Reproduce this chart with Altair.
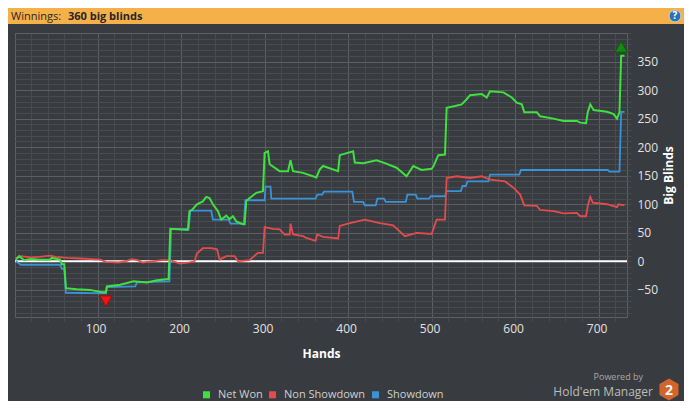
import altair as alt
import pandas as pd

# ---- data ----
net_hands = [2, 6, 12, 20, 30, 43, 45, 55, 57, 60, 62, 75, 91, 105, 110, 111, 127, 143, 159, 171, 185, 187,
             208, 210, 213, 219, 226, 230, 234, 238, 244, 248, 254, 258, 262, 266, 274, 276, 278, 290, 298,
             300, 304, 306, 318, 328, 331, 334, 346, 362, 366, 370, 388, 390, 406, 408, 418, 434, 444, 458,
             470, 478, 488, 500, 502, 508, 516, 518, 528, 536, 542, 546, 560, 566, 570, 586, 596, 602, 608,
             611, 626, 630, 646, 658, 674, 678, 685, 687, 690, 694, 710, 718, 722, 725, 727, 731]
net_values = [3, 9, 2, 4, 3, 3, 6, 3, -5, -5, -47, -49, -50, -54, -54, -44, -41, -35, -37, -33, -31, 57,
              55, 88, 90, 100, 105, 113, 111, 100, 88, 73, 80, 74, 79, 70, 65, 65, 106, 120, 123,
              190, 193, 170, 158, 158, 177, 158, 155, 147, 161, 167, 158, 186, 193, 173, 172, 177, 172, 164,
              149, 167, 160, 162, 166, 186, 187, 269, 272, 275, 284, 291, 293, 287, 298, 296, 287, 278, 275,
              261, 261, 254, 250, 246, 246, 243, 242, 261, 275, 265, 262, 258, 250, 261, 360, 360]

ns_hands = [2, 8, 20, 30, 43, 50, 64, 80, 103, 110, 125, 135, 141, 148, 154, 165, 177, 187, 198, 210, 216,
            219, 226, 236, 243, 246, 254, 264, 268, 282, 292, 298, 300, 310, 318, 324, 330, 331, 334, 346,
            350, 361, 363, 370, 388, 390, 402, 420, 438, 454, 468, 482, 500, 506, 516, 518, 530, 546, 560,
            570, 588, 598, 606, 611, 626, 630, 646, 658, 674, 678, 685, 687, 690, 693, 710, 722, 724, 731]
ns_values = [5, 9, 7, 8, 10, 8, 6, 5, 3, -1, -2, 1, 4, 2, -2, 0, 2, 2, -4, -2, 0,
             14, 23, 23, 21, 3, 9, 9, 0, 2, 15, 15, 60, 57, 56, 47, 47, 66, 47, 44,
             41, 36, 47, 43, 40, 62, 67, 73, 67, 63, 44, 50, 48, 73, 73, 146, 149, 146, 149,
             143, 140, 129, 117, 98, 97, 90, 88, 84, 85, 79, 79, 97, 113, 103, 100, 95, 100, 98]

sd_hands = [2, 8, 55, 57, 60, 62, 110, 111, 145, 147, 186, 188, 209, 211, 236, 238, 257, 259, 275, 277,
            300, 301, 307, 308, 361, 363, 369, 371, 405, 407, 418, 420, 433, 435, 443, 445, 469, 471, 481,
            483, 497, 499, 516, 518, 535, 537, 541, 543, 568, 570, 605, 607, 711, 713, 725, 727, 731]
sd_values = [0, -6, -6, -13, -13, -55, -56, -45, -44, -37, -35, 57, 57, 89, 89, 73, 73, 66, 66, 107,
             107, 131, 131, 110, 110, 117, 117, 122, 122, 104, 104, 98, 98, 110, 110, 104, 104, 117, 117,
             110, 110, 114, 114, 123, 123, 132, 132, 140, 140, 152, 152, 160, 160, 157, 157, 262, 262]

series_names = ["Net Won", "Non Showdown", "Showdown"]
series_colors = ["#3fe03f", "#e34c4c", "#3a93d6"]

x_ticks = list(range(20, 734, 20))
y_ticks = list(range(-90, 401, 10))

header_label = "Winnings:"
header_value = "360 big blinds"

# ---- tables ----
lines = pd.concat([
    pd.DataFrame({"hand": net_hands, "bb": net_values, "series": "Net Won"}),
    pd.DataFrame({"hand": ns_hands, "bb": ns_values, "series": "Non Showdown"}),
    pd.DataFrame({"hand": sd_hands, "bb": sd_values, "series": "Showdown"}),
], ignore_index=True)

net = pd.DataFrame({"hand": net_hands, "bb": net_values})
vmax = net["bb"].max()
vmin = net["bb"].min()
max_pt = net[net["bb"] == vmax].head(1)
min_pt = net[net["bb"] == vmin].tail(1)

BG = "#383b3f"
MAJOR = "#5c5f63"
MINOR = "#484b4f"

x_enc = alt.X(
    "hand:Q",
    scale=alt.Scale(domain=[1, 734], nice=False, zero=False),
    axis=alt.Axis(
        values=x_ticks,
        labelExpr="datum.value % 100 === 0 ? datum.label : ''",
        format="d",
        grid=True,
        gridColor={"condition": {"test": "datum.value % 100 === 0", "value": MAJOR}, "value": MINOR},
        tickColor=MINOR, tickSize=4, domain=False,
        labelColor="#e2e2e2", labelFontSize=12, labelPadding=2, labelOverlap=False, labelFlush=False,
        labelOffset=-2,
        title="Hands", titleColor="#ffffff", titleFontSize=12, titleFontWeight="bold", titlePadding=14,
    ),
)
y_enc = alt.Y(
    "bb:Q",
    scale=alt.Scale(domain=[-97.5, 400], nice=False, zero=False),
    axis=alt.Axis(
        orient="right",
        values=y_ticks,
        labelExpr="datum.value % 50 === 0 && datum.value < 400 ? datum.label : ''",
        format="d",
        grid=True,
        gridColor={"condition": {"test": "datum.value % 50 === 0", "value": MAJOR}, "value": MINOR},
        tickColor=MINOR, tickSize=4, domain=False,
        labelColor="#e2e2e2", labelFontSize=12, labelPadding=6, labelAlign="left",
        labelOverlap=False, labelFlush=False,
        title="Big Blinds", titleColor="#ffffff", titleFontSize=12, titleFontWeight="bold",
        titleAngle=270, titleBaseline="top", titlePadding=6,
    ),
)
color_enc = alt.Color(
    "series:N",
    scale=alt.Scale(domain=series_names, range=series_colors),
    legend=alt.Legend(
        title=None, orient="none", direction="horizontal", legendX=186, legendY=356,
        symbolType="square", symbolSize=12, symbolStrokeWidth=3.6, symbolOffset=0,
        labelColor="#d0d0d0", labelFontSize=11, labelOffset=6, columnPadding=0, padding=0,
    ),
)

base = alt.Chart(lines).encode(x=x_enc, y=y_enc, color=color_enc)

zero = alt.Chart(pd.DataFrame({"bb": [0]})).mark_rule(color="#ffffff", strokeWidth=2).encode(y=y_enc)

sd_line = base.transform_filter(alt.datum.series == "Showdown").mark_line(strokeWidth=1.8)
ns_line = base.transform_filter(alt.datum.series == "Non Showdown").mark_line(strokeWidth=1.8)
net_line = base.transform_filter(alt.datum.series == "Net Won").mark_line(strokeWidth=2)

max_mark = alt.Chart(max_pt).mark_point(
    shape="triangle-up", filled=True, color="#138a13", stroke="#0b5e0b", strokeWidth=1,
    size=150, opacity=1, yOffset=-9,
).encode(x=x_enc, y=y_enc)
min_mark = alt.Chart(min_pt).mark_point(
    shape="triangle-down", filled=True, color="#f01414", stroke="#a00c0c", strokeWidth=1,
    size=150, opacity=1, yOffset=9,
).encode(x=x_enc, y=y_enc)

one = pd.DataFrame({"k": [0]})

header_bar = alt.Chart(one).mark_rect(color="#f5b04a").encode(
    x=alt.value(-7), x2=alt.value(669), y=alt.value(-25), y2=alt.value(-9))
header_t1 = alt.Chart(pd.DataFrame({"t": [header_label]})).mark_text(
    align="left", baseline="middle", fontSize=11, color="#262626", font="Open Sans"
).encode(x=alt.value(-4), y=alt.value(-16.5), text="t:N")
header_t2 = alt.Chart(pd.DataFrame({"t": [header_value]})).mark_text(
    align="left", baseline="middle", fontSize=11, fontWeight="bold", color="#262626", font="Open Sans"
).encode(x=alt.value(53), y=alt.value(-16.5), text="t:N")
help_dot = alt.Chart(one).mark_point(
    shape="circle", filled=True, color="#2a72b8", stroke="#cfe0f0", strokeWidth=0.8, size=140, opacity=1
).encode(x=alt.value(660), y=alt.value(-17))
help_q = alt.Chart(pd.DataFrame({"t": ["?"]})).mark_text(
    align="center", baseline="middle", fontSize=10, fontWeight="bold", color="#ffffff"
).encode(x=alt.value(660), y=alt.value(-17), text="t:N")

powered = alt.Chart(pd.DataFrame({"t": ["Powered by"]})).mark_text(
    align="right", baseline="middle", fontSize=9, color="#a9a9a9"
).encode(x=alt.value(628), y=alt.value(344), text="t:N")
hem = alt.Chart(pd.DataFrame({"t": ["Hold'em Manager"]})).mark_text(
    align="right", baseline="middle", fontSize=12, color="#bdbdbd"
).encode(x=alt.value(638), y=alt.value(359), text="t:N")
hexagon = alt.Chart(one).mark_point(
    shape="M0,-1L0.866,-0.5L0.866,0.5L0,1L-0.866,0.5L-0.866,-0.5Z",
    filled=True, color="#d2652c", size=484, opacity=1,
).encode(x=alt.value(654), y=alt.value(356.5))
hex_two = alt.Chart(pd.DataFrame({"t": ["2"]})).mark_text(
    align="center", baseline="middle", fontSize=14, fontWeight="bold", color="#f4f4f4"
).encode(x=alt.value(654), y=alt.value(357.5), text="t:N")

chart = alt.layer(
    zero, sd_line, ns_line, net_line, max_mark, min_mark,
    header_bar, header_t1, header_t2, help_dot, help_q, powered, hem, hexagon, hex_two,
).properties(
    width=612, height=284,
    padding={"left": 7, "top": 25, "right": 57, "bottom": 84},
    autosize=alt.AutoSizeParams(type="none"),
    background=BG,
).configure(font="Open Sans").configure_view(stroke=MAJOR, strokeWidth=1)

chart.save("out.html", embed_options={"renderer": "svg", "actions": False})
